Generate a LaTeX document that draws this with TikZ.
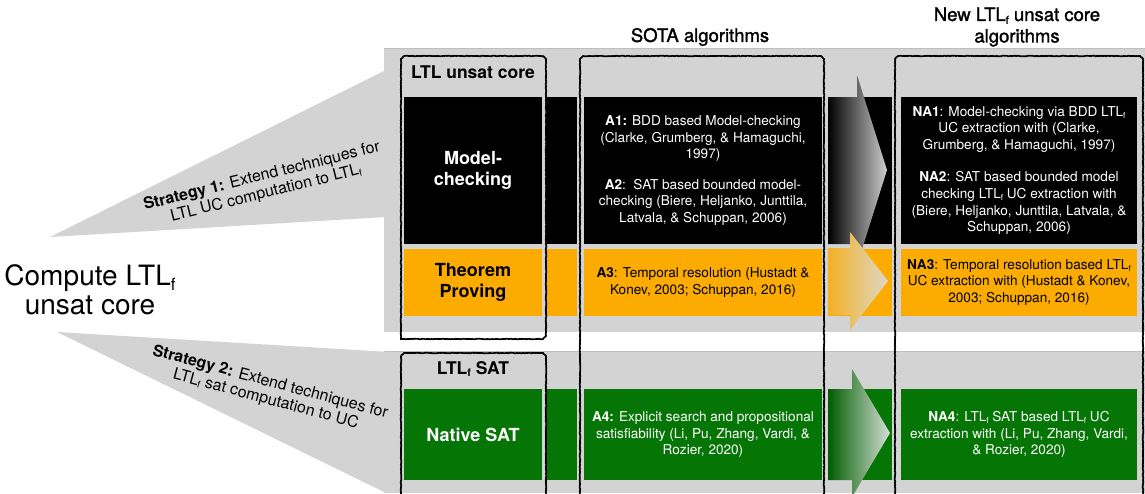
\documentclass[tikz,border=0pt]{standalone}
\usepackage{fontspec}
\usepackage{graphicx}
\setmainfont{TeX Gyre Heros}
\newfontface\medfont[FakeBold=1.6]{TeX Gyre Heros}
\usetikzlibrary{decorations.pathmorphing}
\definecolor{panelgray}{RGB}{211,211,211}
\definecolor{paneledge}{RGB}{190,190,190}
\definecolor{myorange}{RGB}{252,172,0}
\definecolor{mygreen}{RGB}{5,117,5}
\newcommand{\fsub}{\raisebox{-0.3ex}{\scalebox{0.6}{f}}}
\tikzset{
  cellbase/.style={inner sep=0pt, outer sep=0pt, anchor=north west, align=center},
  cblack/.style={cellbase, fill=black, text=white},
  corange/.style={cellbase, fill=myorange, text=black},
  cgreen/.style={cellbase, fill=mygreen, text=white},
  body/.style={font=\fontsize{13.6}{16.6}\selectfont},
  rowlabel/.style={font=\fontsize{18}{21}\selectfont\bfseries},
  header/.style={font=\fontsize{18.5}{21.5}\selectfont\medfont, align=center},
  colhead/.style={font=\fontsize{17.5}{21}\selectfont\bfseries, align=center},
  sketch/.style={draw=black, line width=1.7pt, decorate,
    decoration={random steps, segment length=1.3pt, amplitude=0.3pt}},
  strat/.style={font=\fontsize{16}{17.5}\selectfont, align=center},
}
\begin{document}
\begin{tikzpicture}[x=1pt,y=-1pt]
\pgfmathsetseed{7}
\useasboundingbox (0,0) rectangle (1145,493);
% panels
\fill[panelgray] (384,48) rectangle (1145,332);
\draw[paneledge, line width=0.6pt] (384,48) -- (1145,48);
\fill[panelgray] (384,351) rectangle (1145,493);
\draw[paneledge, line width=0.6pt] (384,351) -- (1145,351);
% strategy wedges
\fill[panelgray] (50,237) -- (386,70) -- (386,217) -- cycle;
\fill[panelgray] (57,332) -- (390,352) -- (386,493) -- cycle;
% black row
\node[cblack, minimum width=138, minimum height=147, rowlabel] (mc) at (404,97) {Model-\\checking};
\node[cblack, minimum width=31, minimum height=147] (s1b) at (546,97) {};
\node[cblack, minimum width=238, minimum height=147, body] (a12) at (584,97)
  {\textbf{A1:} BDD based Model-checking\\(Clarke, Grumberg, \& Hamaguchi,\\1997)\\[14pt]
   \textbf{A2}:~~SAT based bounded model-\\checking (Biere, Heljanko, Junttila,\\Latvala, \& Schuppan, 2006)};
\node[cblack, minimum width=64, minimum height=147] (s2b) at (828,97) {};
\node[cblack, minimum width=236, minimum height=147, body] (na12) at (901,97)
  {\textbf{NA1}: Model-checking via BDD LTL\fsub\\UC extraction with (Clarke,\\Grumberg, \& Hamaguchi, 1997)\\[16pt]
   \textbf{NA2}: SAT based bounded model\\checking LTL\fsub{} UC extraction with\\(Biere, Heljanko, Junttila, Latvala, \&\\Schuppan, 2006)};
% orange row
\node[corange, minimum width=138, minimum height=67, rowlabel] (tp) at (404,249) {Theorem\\Proving};
\node[corange, minimum width=31, minimum height=67] (s1o) at (546,249) {};
\node[corange, minimum width=238, minimum height=67, body] (a3) at (584,249)
  {\textbf{A3}: Temporal resolution (Hustadt \&\\Konev, 2003; Schuppan, 2016)};
\node[corange, minimum width=64, minimum height=67] (s2o) at (828,249) {};
\node[corange, minimum width=236, minimum height=67, body] (na3) at (901,249)
  {\textbf{NA3}: Temporal resolution based LTL\fsub\\UC extraction with (Hustadt \& Konev,\\2003; Schuppan, 2016)};
% green row
\node[cgreen, minimum width=138, minimum height=91, rowlabel] (ns) at (404,389) {Native SAT};
\node[cgreen, minimum width=31, minimum height=91] (s1g) at (546,389) {};
\node[cgreen, minimum width=238, minimum height=91, body] (a4) at (584,389)
  {\textbf{A4:} Explicit search and propositional\\satisfiability (Li, Pu, Zhang, Vardi, \&\\Rozier, 2020)};
\node[cgreen, minimum width=64, minimum height=91] (s2g) at (828,389) {};
\node[cgreen, minimum width=236, minimum height=91, body] (na4) at (901,389)
  {\textbf{NA4}: LTL\fsub{} SAT based LTL\fsub{} UC\\extraction with (Li, Pu, Zhang, Vardi,\\\& Rozier, 2020)};
% gradient arrows
\shade[left color=black, right color={rgb,255:red,205;green,205;blue,205}]
  (828,97) -- (857,97) -- (857,75) -- (887,170) -- (857,265) -- (857,244) -- (828,244) -- cycle;
\shade[left color={rgb,255:red,244;green,176;blue,36}, right color={rgb,255:red,222;green,216;blue,200}]
  (828,248) -- (850,248) -- (850,232) -- (888,281) -- (850,330) -- (850,315) -- (828,315) -- cycle;
\shade[left color={rgb,255:red,0;green,92;blue,0}, right color={rgb,255:red,214;green,224;blue,214}]
  (828,389) -- (852,389) -- (852,369) -- (890,433) -- (852,497) -- (852,480) -- (828,480) -- cycle;
% sketchy column frames
\draw[sketch] (401,339) -- (401,59) -- (404,56) -- (543,56) -- (546,59) -- (546,336) -- (543,339) -- cycle;
\draw[sketch] (401,505) -- (401,356) -- (404,353) -- (543,353) -- (546,356) -- (546,505);
\draw[sketch] (580,505) -- (580,59) -- (583,56) -- (821,56) -- (824,59) -- (824,505);
\draw[sketch] (895,505) -- (895,59) -- (898,56) -- (1140,56) -- (1143,59) -- (1143,505);
% headers
\node[colhead] (ltluc) at (473,72) {LTL unsat core};
\node[colhead] (ltlfsat) at (473,369) {LTL\fsub{} SAT};
\node[header] (sota) at (700,37) {SOTA algorithms};
\node[header] (newalg) at (1017,27) {New LTL\fsub{} unsat core\\algorithms};
% left texts
\node[font=\fontsize{28}{29}\selectfont, align=center] (compute) at (90,290) {Compute LTL\fsub\\unsat core};
\node[strat, rotate=14] (st1) at (264,185) {\textbf{Strategy 1:} Extend techniques for\\LTL UC computation to LTL\fsub};
\node[strat, rotate=-15] (st2) at (268,391) {\textbf{Strategy 2:} Extend techniques for\\LTL\fsub{} sat computation to UC};
\end{tikzpicture}
\end{document}
